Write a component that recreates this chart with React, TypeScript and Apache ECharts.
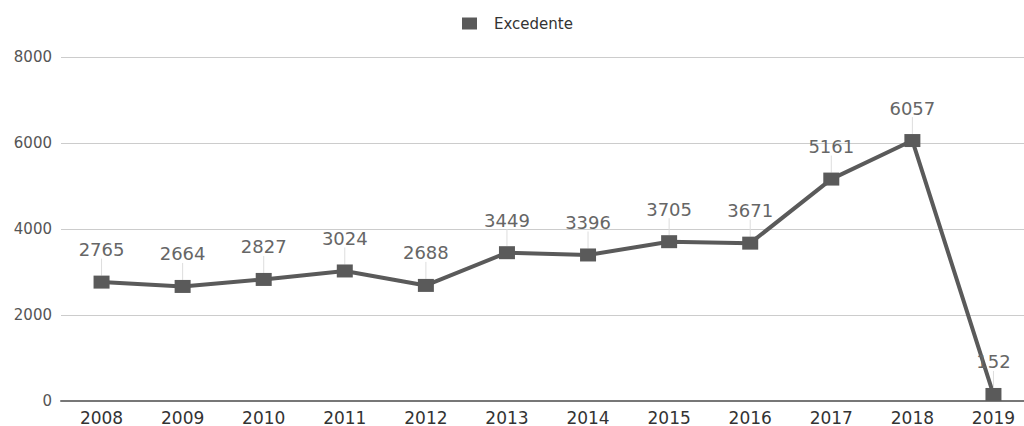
import React, { useEffect, useRef } from "react";
import * as echarts from "echarts";

const years = ["2008", "2009", "2010", "2011", "2012", "2013", "2014", "2015", "2016", "2017", "2018", "2019"];
const excedente = [2765, 2664, 2827, 3024, 2688, 3449, 3396, 3705, 3671, 5161, 6057, 152];
const yTicks = { min: 0, max: 8000, interval: 2000 };

const FONT = "DejaVu Sans";

export default function App() {
  const ref = useRef<HTMLDivElement>(null);
  useEffect(() => {
    document.body.style.margin = "0";
    document.body.style.overflow = "hidden";
    const chart = echarts.init(ref.current!, null, { renderer: "svg" });
    chart.setOption({
      animation: false,
      textStyle: { fontFamily: FONT },
      legend: {
        top: 16,
        left: 462,
        padding: 0,
        icon: "rect",
        itemWidth: 15,
        itemHeight: 12,
        itemGap: 10,
        textStyle: { fontSize: 15, color: "#333", fontFamily: FONT, padding: [0, 0, 0, 12] },
        data: ["Excedente"],
      },
      grid: { left: 61, right: 0, top: 57, bottom: 24, containLabel: false },
      xAxis: {
        type: "category",
        data: years,
        boundaryGap: true,
        axisLine: { show: true, lineStyle: { color: "#777", width: 2 } },
        axisTick: { show: false },
        axisLabel: { fontSize: 17, color: "#333", margin: 8, fontFamily: FONT },
      },
      yAxis: {
        type: "value",
        min: yTicks.min,
        max: yTicks.max,
        interval: yTicks.interval,
        axisLine: { show: false },
        axisTick: { show: false },
        axisLabel: {
          fontSize: 15,
          color: "#555",
          margin: 9,
          fontFamily: FONT,
          formatter: (v: number) => String(v),
        },
        splitLine: { lineStyle: { color: "#ccc", width: 1 } },
      },
      series: [
        {
          name: "Excedente",
          type: "line",
          data: excedente,
          symbol: "rect",
          symbolSize: [16, 13],
          itemStyle: { color: "#5a5a5a" },
          lineStyle: { color: "#5a5a5a", width: 4 },
          label: {
            show: true,
            position: "top",
            distance: 6,
            fontSize: 18,
            color: "#666",
            fontFamily: FONT,
          },
          labelLayout: { dy: -11 },
          labelLine: { show: true, lineStyle: { color: "#ddd", width: 1 } },
        },
      ],
    });
    return () => chart.dispose();
  }, []);
  return (
    <div
      ref={ref}
      style={{ position: "absolute", left: 0, top: 0, width: 1034, height: 426 }}
    />
  );
}
